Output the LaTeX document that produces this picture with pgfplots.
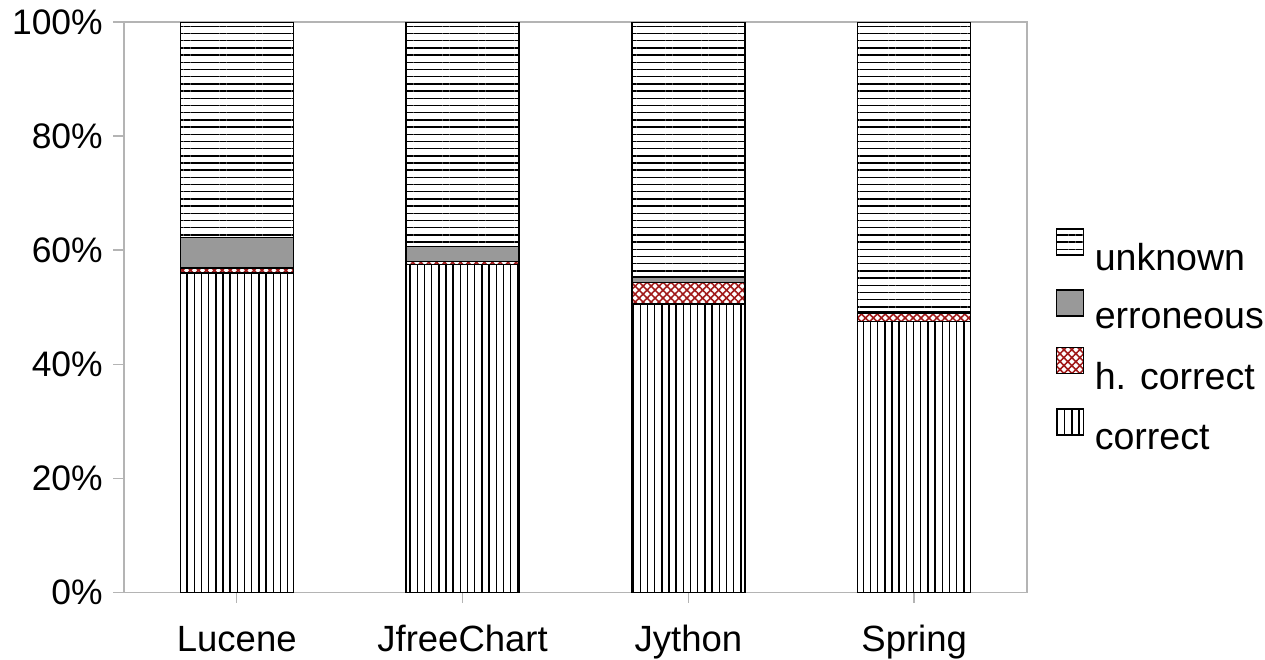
\documentclass[border=0pt]{standalone}
\usepackage{fontspec}
\setmainfont{Liberation Sans}
\usepackage{pgfplots}
\pgfplotsset{compat=1.18}
\usetikzlibrary{patterns.meta}
\definecolor{errgray}{RGB}{153,153,153}
\definecolor{hatchred}{RGB}{160,25,25}
\definecolor{axgray}{RGB}{180,180,180}
\begin{document}
\begin{tikzpicture}
\begin{axis}[
  name=ax,
  scale only axis,
  width=257.4pt, height=162.5pt,
  ybar stacked,
  bar width=32.2pt,
  xmin=-0.5, xmax=3.5,
  ymin=0, ymax=100,
  xtick=data,
  xticklabels={Lucene,JfreeChart,Jython,Spring},
  ytick={0,20,40,60,80,100},
  yticklabel={\pgfmathprintnumber{\tick}\%},
  /pgf/number format/assume math mode=true,
  xticklabel style={font=\fontsize{10.4}{12}\selectfont, anchor=base, yshift=-14pt},
  yticklabel style={font=\fontsize{10.1}{12}\selectfont, xshift=0.5pt},
  tick align=outside,
  xtick pos=bottom, ytick pos=left,
  major tick length=3pt,
  axis line style={axgray, line width=0.4pt},
  tick style={axgray, line width=0.4pt},
  reverse legend,
  legend style={at={(1,0.434)}, anchor=west, xshift=8pt, draw=none, fill=none,
    inner sep=0pt, font=\fontsize{10.7}{12}\selectfont, row sep=1.8pt},
  legend cell align=left,
  legend image code/.code={\draw[#1, line width=0.4pt] (0pt,1.4pt) rectangle (7.7pt,8.8pt);},
]
\addplot[draw=black, line width=0.4pt, pattern={Lines[angle=90, distance=2.05pt, line width=0.4pt]}, pattern color=black]
  coordinates {(0,56.0) (1,57.5) (2,50.6) (3,47.5)};
\addlegendentry{\hspace{1pt}correct}
\addplot[draw=black, line width=0.4pt, pattern={Hatch[angle=45, distance=1.6pt, line width=0.45pt]}, pattern color=hatchred]
  coordinates {(0,0.9) (1,0.5) (2,3.7) (3,1.5)};
\addlegendentry{\hspace{1pt}h. correct}
\addplot[draw=black, line width=0.4pt, fill=errgray]
  coordinates {(0,5.3) (1,2.6) (2,1.0) (3,0.3)};
\addlegendentry{\hspace{1pt}erroneous}
\addplot[draw=black, line width=0.4pt, pattern={Lines[angle=0, distance=2.05pt, line width=0.4pt]}, pattern color=black]
  coordinates {(0,37.8) (1,39.4) (2,44.7) (3,50.7)};
\addlegendentry{\hspace{1pt}unknown}
\end{axis}
\pgfresetboundingbox
\path (ax.south west) ++(-35.3pt,-19.1pt) coordinate (bl);
\path (ax.north west) ++(-35.3pt,6.3pt) ++(360.5pt,0pt) coordinate (tr);
\path[use as bounding box] (bl) rectangle (tr);
\end{tikzpicture}
\end{document}
